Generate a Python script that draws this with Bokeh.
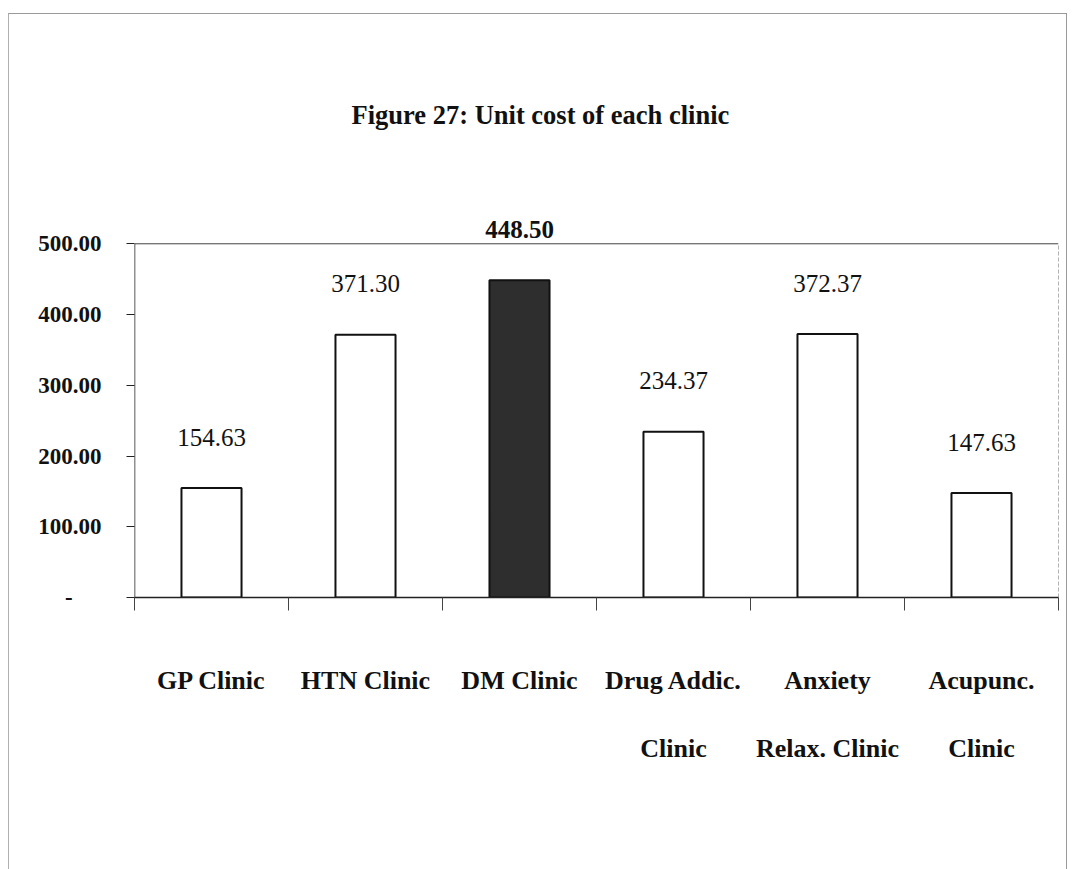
from bokeh.plotting import figure
from bokeh.models import (ColumnDataSource, FixedTicker, LinearAxis, Range1d, Title)
from bokeh.embed import file_html
from bokeh.resources import INLINE
from bokeh.core.properties import value

# ---- data ----
categories = ["GP Clinic", "HTN Clinic", "DM Clinic", "Drug Addic.", "Anxiety", "Acupunc."]
categories_line2 = ["", "", "", "Clinic", "Relax. Clinic", "Clinic"]
unit_cost = [154.63, 371.30, 448.50, 234.37, 372.37, 147.63]
bar_colors = ["white", "white", "#2e2e2e", "white", "white", "white"]
label_texts = ["154.63", "371.30", "448.50", "234.37", "372.37", "147.63"]
label_styles = ["normal", "normal", "bold", "normal", "normal", "normal"]
y_ticks = [0, 100, 200, 300, 400, 500]
y_tick_labels = ["-\u00a0\u00a0\u00a0\u00a0\u00a0", "100.00", "200.00", "300.00", "400.00", "500.00"]

SERIF = "Liberation Serif"

n = len(categories)
xs = [i + 0.5 for i in range(n)]
src = ColumnDataSource(dict(x=xs, top=unit_cost, color=bar_colors,
                            label=label_texts, style=label_styles))

p = figure(width=1059, height=856, x_range=Range1d(0, n), y_range=Range1d(0, 540),
           output_backend="svg", toolbar_location=None, x_axis_location=None,
           y_axis_location=None, min_border_left=125, min_border_right=10,
           min_border_top=201, min_border_bottom=273)
p.outline_line_color = None
p.xgrid.grid_line_color = None
p.ygrid.grid_line_color = None
p.styles = {"margin-left": "8px", "margin-top": "13px",
            "border-top": "1px solid #9a9a9a", "border-left": "1px solid #b0b0b0",
            "border-right": "1px solid #9a9a9a"}

title = Title(text="Figure 27: Unit cost of each clinic", align="left",
              vertical_align="top",
              text_font=SERIF, text_font_size="26.5px", text_font_style="bold",
              text_color="#111111", standoff=168, offset=217)
p.add_layout(title, "above")

# bars
p.vbar(x="x", top="top", width=0.39, bottom=0, source=src, fill_color="color",
       line_color="#111111", line_width=2)

# value labels
p.text(x="x", y="top", text="label", source=src, text_font=value(SERIF),
       text_font_size="25px", text_font_style="style", text_align="center",
       text_baseline="middle", y_offset=-51, text_color="#111111")

# frame lines: top at 500 and right edge
p.segment(x0=[0], y0=[500], x1=[n], y1=[500], line_color="#444444", line_width=1)
p.segment(x0=[n], y0=[0], x1=[n], y1=[500], line_color="#666666", line_width=1,
          line_dash="4 2")
p.segment(x0=[0], y0=[0], x1=[0], y1=[500], line_color="#222222", line_width=1.5)

# y axis
yax = LinearAxis(ticker=FixedTicker(ticks=y_ticks, minor_ticks=[]))
yax.major_label_overrides = {t: l for t, l in zip(y_ticks, y_tick_labels)}
yax.axis_line_color = None
yax.major_tick_out = 8
yax.major_tick_in = 0
yax.major_tick_line_color = "#222222"
yax.major_label_standoff = 25
yax.major_label_text_font = SERIF
yax.major_label_text_font_size = "23px"
yax.major_label_text_font_style = "bold"
yax.major_label_text_color = "#111111"
p.add_layout(yax, "left")

# x axis (line 1 of category labels)
xax = LinearAxis(ticker=FixedTicker(ticks=xs, minor_ticks=list(range(n + 1))))
xax.major_label_overrides = {x: c for x, c in zip(xs, categories)}
xax.axis_line_color = "#222222"
xax.axis_line_width = 1.5
xax.major_tick_out = 0
xax.major_tick_in = 0
xax.minor_tick_out = 13
xax.minor_tick_in = 0
xax.minor_tick_line_color = "#444444"
xax.major_label_standoff = 55
xax.major_label_text_font = SERIF
xax.major_label_text_font_size = "26px"
xax.major_label_text_font_style = "bold"
xax.major_label_text_color = "#111111"
p.add_layout(xax, "below")

# second line of category labels
xax2 = LinearAxis(ticker=FixedTicker(ticks=xs, minor_ticks=[]))
xax2.major_label_overrides = {x: c for x, c in zip(xs, categories_line2)}
xax2.axis_line_color = None
xax2.major_tick_line_color = None
xax2.major_tick_out = 0
xax2.major_tick_in = 0
xax2.major_label_standoff = 36
xax2.major_label_text_font = SERIF
xax2.major_label_text_font_size = "26px"
xax2.major_label_text_font_style = "bold"
xax2.major_label_text_color = "#111111"
p.add_layout(xax2, "below")

open("out.html", "w").write(file_html(p, INLINE))
